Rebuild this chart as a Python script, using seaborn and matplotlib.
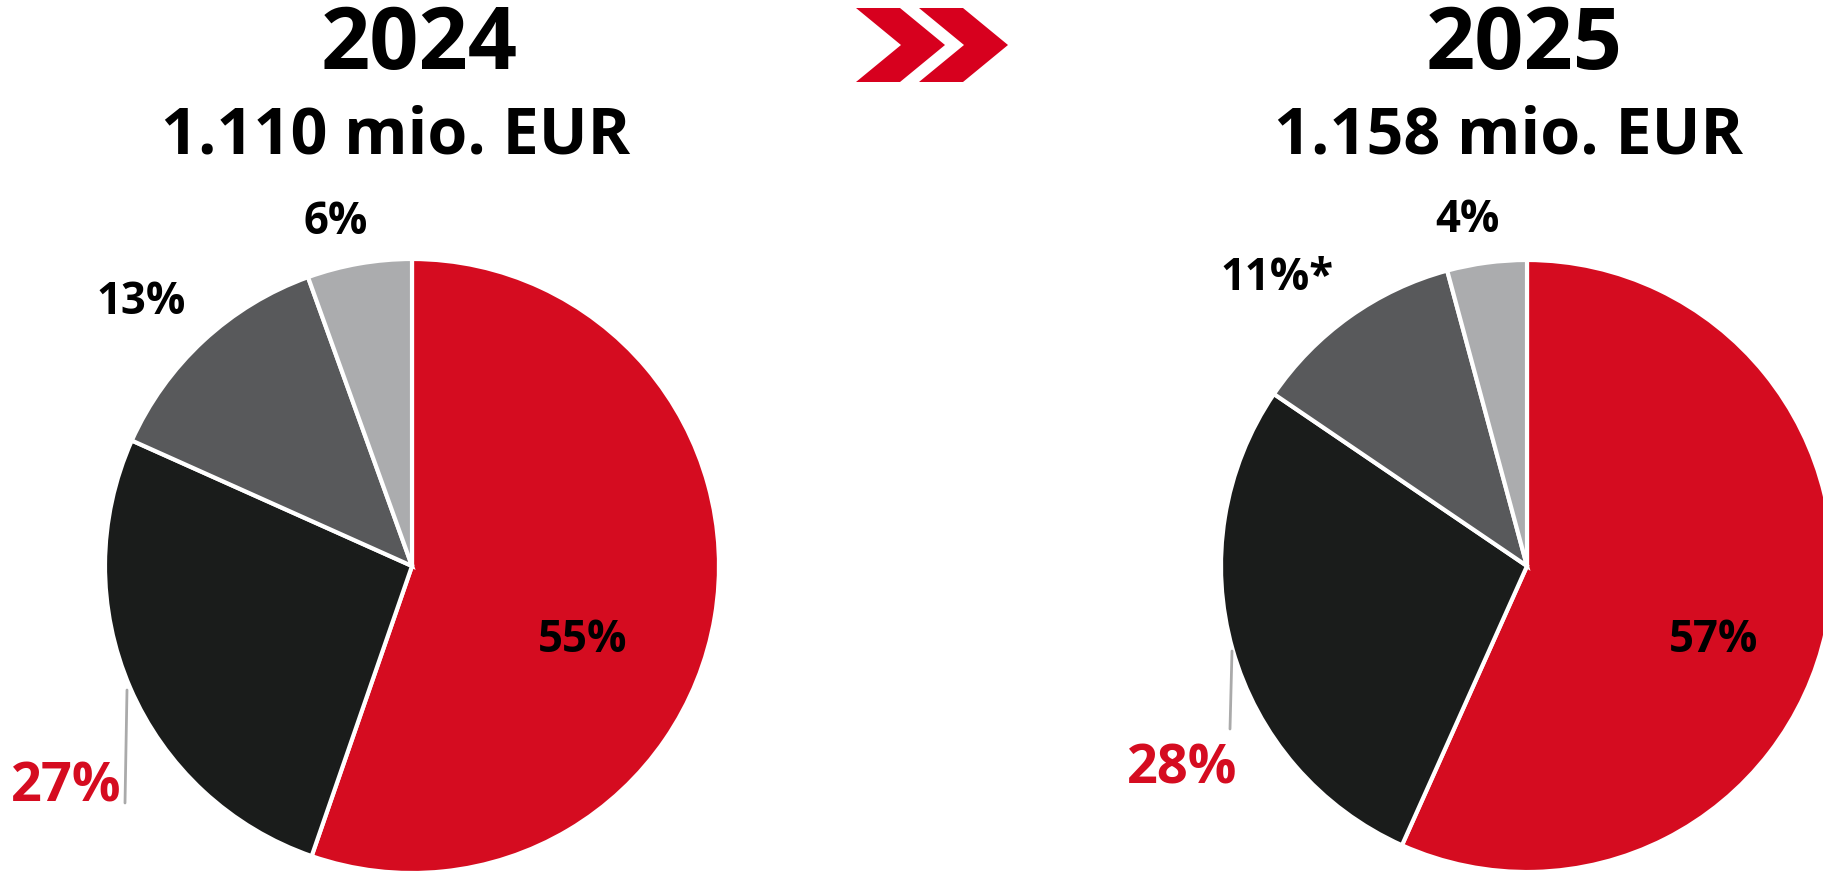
import matplotlib
matplotlib.use("Agg")
import matplotlib.pyplot as plt
import seaborn as sns
from matplotlib.patches import Polygon

# Data (slice sizes, labels as printed)
years = ["2024", "2025"]
totals = ["1.110 mio. EUR", "1.158 mio. EUR"]
shares_2024 = [55.3, 26.4, 12.8, 5.5]
shares_2025 = [56.7, 27.8, 11.3, 4.2]
labels_2024 = ["55%", "27%", "13%", "6%"]
labels_2025 = ["57%", "28%", "11%*", "4%"]
slice_colors = ["#D50C20", "#1A1C1B", "#58595B", "#ABACAE"]

sns.set_theme(style="white")
plt.rcParams['font.family'] = ['Open Sans', 'DejaVu Sans']

W, H = 1824, 874
fig = plt.figure(figsize=(W / 100, H / 100), dpi=100)
ax = fig.add_axes([0, 0, 1, 1])
ax.set_xlim(0, W)
ax.set_ylim(0, H)
ax.set_aspect("equal")
ax.axis("off")

def py(y):
    # pixel y (top-down) to axes y
    return H - y

pies = [
    dict(vals=shares_2024, labels=labels_2024, center=(412, 566), r=307,
         title_x=419, sub_x=396,
         label_pos=[(583, 640), (66, 788), (141, 302), (336, 222)],
         leader=[(127, 690), (125, 803)]),
    dict(vals=shares_2025, labels=labels_2025, center=(1527, 566), r=306,
         title_x=1524, sub_x=1509,
         label_pos=[(1714, 640), (1182, 770), (1277, 279), (1467, 221)],
         leader=[(1232, 651), (1230, 729)]),
]

for i, p in enumerate(pies):
    cx, cy = p["center"]
    ax.pie(p["vals"], colors=slice_colors, startangle=90, counterclock=False,
           center=(cx, py(cy)), radius=p["r"], frame=True,
           wedgeprops=dict(edgecolor="white", linewidth=3))
    ax.text(p["title_x"], py(47), years[i], ha="center", va="center",
            fontsize=62, fontweight="bold", color="black")
    ax.text(p["sub_x"], py(137), totals[i], ha="center", va="center",
            fontsize=46.5, fontweight="bold", color="black")
    for j, (lx, ly) in enumerate(p["label_pos"]):
        red = j == 1
        ax.text(lx, py(ly), p["labels"][j], ha="center", va="center",
                fontsize=39 if red else 31.5, fontweight="bold",
                color=slice_colors[0] if red else "black")
    (x0, y0), (x1, y1) = p["leader"]
    ax.plot([x0, x1], [py(y0), py(y1)], color="#AAAAAA", lw=2)

# chevrons between the years
for dx in (0, 63):
    pts = [(856 + dx, 8), (900 + dx, 8), (945 + dx, 45), (900 + dx, 82),
           (856 + dx, 82), (901 + dx, 45)]
    ax.add_patch(Polygon([(x, py(y)) for x, y in pts], closed=True,
                         facecolor="#D7001E", edgecolor="none"))

ax.set_xlim(0, W)
ax.set_ylim(0, H)
fig.savefig("out.png", dpi=100, facecolor="white")
